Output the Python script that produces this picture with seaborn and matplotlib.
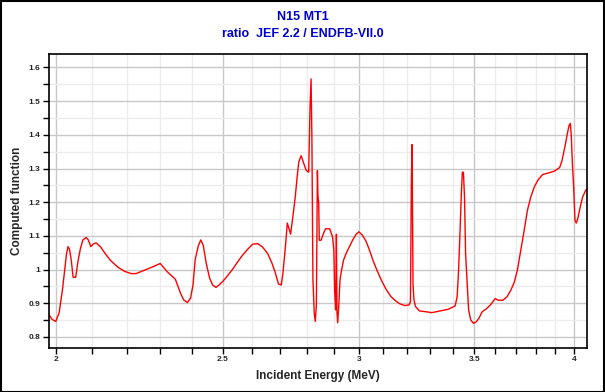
import matplotlib
matplotlib.use('Agg')
import matplotlib.pyplot as plt
import matplotlib.ticker as mticker
import seaborn as sns
import pandas as pd

# ratio JEF 2.2 / ENDFB-VII.0
energy = [1.982, 1.990, 2.000, 2.009, 2.018, 2.024, 2.029, 2.033, 2.037, 2.042,
          2.047, 2.054, 2.060, 2.067, 2.074, 2.083, 2.089, 2.096, 2.103, 2.111,
          2.123, 2.137, 2.152, 2.172, 2.192, 2.212, 2.227, 2.252, 2.277, 2.300,
          2.322, 2.347, 2.363, 2.373, 2.385, 2.395, 2.403, 2.410, 2.420, 2.428,
          2.436, 2.446, 2.457, 2.467, 2.478, 2.488, 2.500, 2.516, 2.533, 2.551,
          2.568, 2.585, 2.602, 2.620, 2.637, 2.655, 2.671, 2.683, 2.694, 2.704,
          2.710, 2.719, 2.726, 2.732, 2.738, 2.747, 2.755, 2.762, 2.768, 2.777,
          2.787, 2.796, 2.805, 2.810, 2.814, 2.817, 2.821, 2.826, 2.830, 2.834,
          2.838, 2.840, 2.843, 2.845, 2.852, 2.861, 2.869, 2.885, 2.896, 2.901,
          2.904, 2.908, 2.911, 2.913, 2.916, 2.920, 2.925, 2.931, 2.939, 2.949,
          2.963, 2.976, 2.989, 3.000, 3.014, 3.028, 3.042, 3.058, 3.075, 3.093,
          3.111, 3.131, 3.149, 3.169, 3.190, 3.208, 3.214, 3.218, 3.221, 3.225,
          3.229, 3.236, 3.253, 3.278, 3.307, 3.344, 3.381, 3.400, 3.412, 3.421,
          3.427, 3.433, 3.440, 3.445, 3.450, 3.455, 3.460, 3.467, 3.474, 3.484,
          3.497, 3.510, 3.522, 3.538, 3.555, 3.577, 3.588, 3.600, 3.613, 3.637,
          3.657, 3.676, 3.692, 3.708, 3.725, 3.742, 3.758, 3.775, 3.792, 3.812,
          3.835, 3.861, 3.896, 3.924, 3.936, 3.951, 3.964, 3.973, 3.980, 3.985,
          3.991, 3.998, 4.005, 4.012, 4.020, 4.033, 4.046, 4.060, 4.070]
ratio = [0.866, 0.852, 0.846, 0.871, 0.940, 0.998, 1.047, 1.068, 1.061, 1.027,
         0.977, 0.977, 1.022, 1.062, 1.088, 1.095, 1.088, 1.068, 1.076, 1.079,
         1.068, 1.047, 1.027, 1.008, 0.995, 0.988, 0.988, 0.998, 1.008, 1.018,
         0.993, 0.971, 0.930, 0.910, 0.902, 0.915, 0.954, 1.030, 1.070, 1.088,
         1.072, 1.018, 0.974, 0.954, 0.947, 0.954, 0.964, 0.981, 1.000, 1.023,
         1.043, 1.060, 1.075, 1.077, 1.067, 1.048, 1.018, 0.989, 0.957, 0.954,
         0.989, 1.067, 1.138, 1.122, 1.105, 1.161, 1.215, 1.274, 1.319, 1.338,
         1.314, 1.294, 1.289, 1.480, 1.566, 1.400, 0.970, 0.870, 0.846, 0.895,
         1.294, 1.220, 1.196, 1.087, 1.087, 1.107, 1.121, 1.121, 1.097, 1.058,
         0.939, 0.880, 1.105, 0.875, 0.842, 0.890, 0.969, 0.998, 1.028, 1.048,
         1.069, 1.089, 1.105, 1.112, 1.102, 1.085, 1.059, 1.025, 0.995, 0.966,
         0.941, 0.920, 0.908, 0.898, 0.893, 0.895, 0.905, 1.265, 1.371, 0.959,
         0.910, 0.890, 0.877, 0.875, 0.872, 0.877, 0.882, 0.888, 0.892, 0.919,
         0.988, 1.087, 1.220, 1.289, 1.289, 1.215, 1.047, 0.964, 0.880, 0.850,
         0.840, 0.845, 0.855, 0.875, 0.882, 0.895, 0.904, 0.914, 0.909, 0.909,
         0.919, 0.939, 0.961, 0.998, 1.057, 1.116, 1.175, 1.215, 1.244, 1.266,
         1.282, 1.286, 1.292, 1.303, 1.323, 1.363, 1.402, 1.427, 1.434, 1.402,
         1.318, 1.244, 1.146, 1.138, 1.151, 1.185, 1.215, 1.232, 1.240]

x_major = [2, 2.5, 3, 3.5, 4]
x_major_labels = ['2', '2.5', '3', '3.5', '4']
x_minor = [2.1, 2.2, 2.3, 2.4, 2.6, 2.7, 2.8, 2.9, 3.1, 3.2, 3.3, 3.4,
           3.6, 3.7, 3.8, 3.9]
y_major = [0.8, 0.9, 1.0, 1.1, 1.2, 1.3, 1.4, 1.5, 1.6]
y_major_labels = ['0.8', '0.9', '1', '1.1', '1.2', '1.3', '1.4', '1.5', '1.6']

df = pd.DataFrame({'energy': energy, 'ratio': ratio})

sns.set_style('white')
plt.rcParams['font.family'] = ['Liberation Sans', 'DejaVu Sans']

fig = plt.figure(figsize=(6.05, 3.92), dpi=100)
ax = fig.add_axes([49 / 605, 1 - 348 / 392, 538 / 605, 294 / 392])

sns.lineplot(data=df, x='energy', y='ratio', ax=ax, color='#ff0000',
             linewidth=1.0, estimator=None, sort=False)

ax.set_xscale('log')
ax.set_xlim(1.982, 4.07)
ax.set_ylim(0.767, 1.64)
ax.xaxis.set_major_locator(mticker.FixedLocator(x_major))
ax.xaxis.set_major_formatter(mticker.FixedFormatter(x_major_labels))
ax.xaxis.set_minor_locator(mticker.FixedLocator(x_minor))
ax.xaxis.set_minor_formatter(mticker.NullFormatter())
ax.yaxis.set_major_locator(mticker.FixedLocator(y_major))
ax.yaxis.set_major_formatter(mticker.FixedFormatter(y_major_labels))
ax.yaxis.set_minor_locator(mticker.MultipleLocator(0.05))

ax.grid(which='major', color='#c8c8c8', linewidth=1.0)
ax.grid(which='minor', color='#ececec', linewidth=1.0)
ax.set_axisbelow(True)

ax.tick_params(which='both', direction='out', length=4, width=1, color='black',
               labelsize=6, pad=2, bottom=True, left=True)
for lab in ax.get_xticklabels() + ax.get_yticklabels():
    lab.set_fontweight('bold')
for s in ax.spines.values():
    s.set_color('black')
    s.set_linewidth(1.2)

ax.set_xlabel('Incident Energy (MeV)', fontsize=8.5, fontweight='bold', labelpad=5)
ax.set_ylabel('Computed function', fontsize=8.5, fontweight='bold', labelpad=4)

fig.text(0.5, 1 - 17 / 392, 'N15 MT1', ha='center', va='center',
         fontsize=9, fontweight='bold', color='#0000cc')
fig.text(0.5, 1 - 34 / 392, 'ratio  JEF 2.2 / ENDFB-VII.0', ha='center',
         va='center', fontsize=9, fontweight='bold', color='#0000cc')

# outer frame
fig.patches.append(plt.Rectangle((0.001, 0.001), 0.997, 0.996,
                                 transform=fig.transFigure, fill=False,
                                 edgecolor='black', linewidth=1.5))

fig.savefig('out.png', dpi=100)
